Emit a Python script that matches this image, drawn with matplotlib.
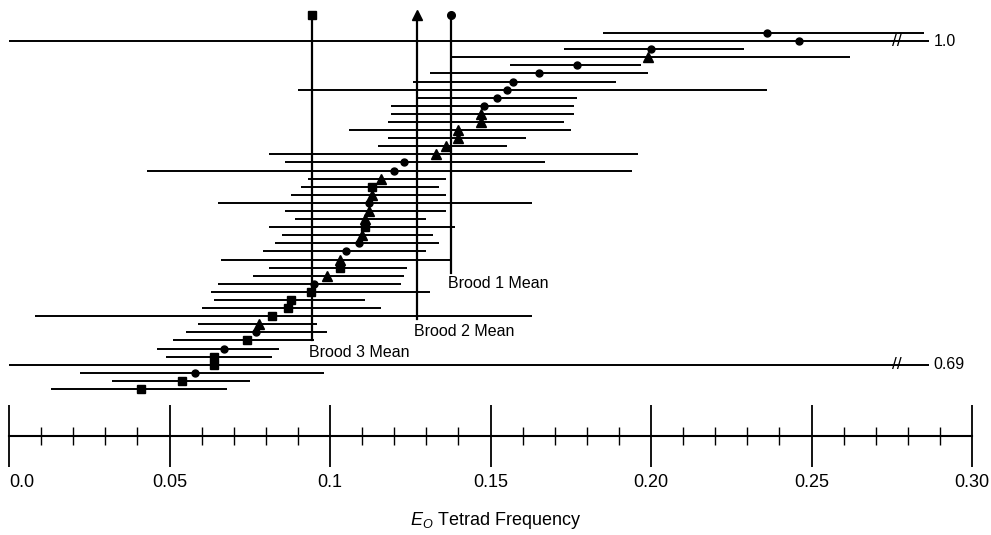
import matplotlib
matplotlib.use("Agg")
import matplotlib.pyplot as plt

plt.rcParams['font.family'] = ['Liberation Sans', 'DejaVu Sans']
plt.rcParams['mathtext.fontset'] = 'custom'
plt.rcParams['mathtext.rm'] = 'Liberation Sans'
plt.rcParams['mathtext.it'] = 'Liberation Sans:italic'

# E_O tetrad frequency per row (top to bottom): lower limit, estimate, upper limit
lower = [0.185, 0.0, 0.173, 0.138, 0.156, 0.131, 0.126, 0.090, 0.127, 0.119,
         0.119, 0.118, 0.106, 0.118, 0.115, 0.081, 0.086, 0.043, 0.093, 0.091,
         0.088, 0.065, 0.086, 0.089, 0.081, 0.085, 0.083, 0.079, 0.066, 0.081,
         0.076, 0.065, 0.063, 0.064, 0.060, 0.008, 0.059, 0.055, 0.051, 0.046,
         0.049, 0.0, 0.022, 0.032, 0.013]
estimate = [0.236, 0.246, 0.200, 0.199, 0.177, 0.165, 0.157, 0.155, 0.152, 0.148,
            0.147, 0.147, 0.140, 0.140, 0.136, 0.133, 0.123, 0.120, 0.116, 0.113,
            0.113, 0.112, 0.112, 0.111, 0.111, 0.110, 0.109, 0.105, 0.103, 0.103,
            0.099, 0.095, 0.094, 0.088, 0.087, 0.082, 0.078, 0.077, 0.074, 0.067,
            0.064, 0.064, 0.058, 0.054, 0.041]
upper = [0.285, 1.0, 0.229, 0.262, 0.197, 0.199, 0.189, 0.236, 0.177, 0.176,
         0.176, 0.173, 0.175, 0.161, 0.155, 0.196, 0.167, 0.194, 0.136, 0.134,
         0.136, 0.163, 0.136, 0.130, 0.139, 0.132, 0.134, 0.130, 0.138, 0.124,
         0.123, 0.122, 0.131, 0.111, 0.116, 0.163, 0.096, 0.099, 0.095, 0.084,
         0.082, 0.69, 0.098, 0.075, 0.068]
brood = [1, 1, 1, 2, 1, 1, 1, 1, 1, 1,
         2, 2, 2, 2, 2, 2, 1, 1, 2, 3,
         2, 1, 2, 2, 3, 2, 1, 1, 2, 3,
         2, 1, 3, 3, 3, 3, 2, 1, 3, 1,
         3, 3, 1, 3, 3]

brood_means = {1: 0.1378, 2: 0.1272, 3: 0.0945}
brood_marker = {1: 'o', 2: '^', 3: 's'}
brood_msize = {1: 5, 2: 7, 3: 5.5}

major_ticks = [0.0, 0.05, 0.10, 0.15, 0.20, 0.25, 0.30]
major_labels = ['0.0', '0.05', '0.1', '0.15', '0.20', '0.25', '0.30']
minor_ticks = [i / 100 for i in range(31) if i % 5 != 0]

fig = plt.figure(figsize=(9.91, 5.35), dpi=100)
ax = fig.add_axes([0, 0.1855, 1, 0.8145])
ax.set_xlim(-0.0028, 0.3059)
ax.set_ylim(49.78, -4.08)

# rows drawn past the axis are cut and marked with a break
x_cut = 0.2866
x_mark = 0.2765
for i, (lo, est, hi, b) in enumerate(zip(lower, estimate, upper, brood)):
    right = min(hi, x_cut)
    ax.plot([lo, right], [i, i], color='black', lw=1.4, solid_capstyle='butt')
    ax.plot(est, i, marker=brood_marker[b], ms=brood_msize[b], color='black',
            mec='black')
    if hi > 0.30:
        ax.text(x_mark, i, '//', ha='center', va='center', fontsize=12.5)
        ax.text(right + 0.0015, i, f'{hi:g}' if hi != 1.0 else '1.0',
                ha='left', va='center', fontsize=11.5)

# brood means
line_bottom = {1: 29.7, 2: 35.4, 3: 37.95}
label_y = {1: 31.0, 2: 36.9, 3: 39.5}
for b, m in brood_means.items():
    ax.plot([m, m], [-2.2, line_bottom[b]], color='black', lw=1.6)
    ax.plot(m, -2.2, marker=brood_marker[b], ms=brood_msize[b] + 0.5,
            color='black')
    ax.text(m - 0.0009, label_y[b], f'Brood {b} Mean', ha='left',
            va='center', fontsize=11.5)

# number line at the bottom
for s in ['top', 'left', 'right']:
    ax.spines[s].set_visible(False)
ax.spines['bottom'].set_bounds(0, 0.30)
ax.spines['bottom'].set_linewidth(1.5)
ax.set_yticks([])
ax.set_xticks(major_ticks)
ax.set_xticklabels(major_labels, fontsize=13)
ax.set_xticks(minor_ticks, minor=True)
ax.tick_params(which='major', direction='inout', length=45, width=1.3, pad=5)
ax.tick_params(which='minor', direction='inout', length=13.5, width=1.0)
ax.get_xticklabels()[0].set_ha('left')
ax.set_xlabel('$E_O$ Tetrad Frequency', fontsize=13, labelpad=14)

fig.savefig('out.png', dpi=100)
